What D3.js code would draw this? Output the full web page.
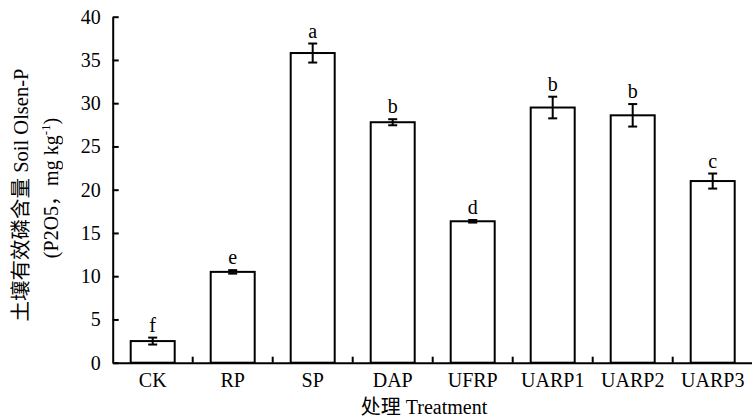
<!DOCTYPE html>
<html><head><meta charset="utf-8">
<script src="https://cdn.jsdelivr.net/npm/d3@7"></script>
<style>
html,body{margin:0;padding:0;background:#fff;}
svg{display:block;}
svg text{font-family:"Liberation Serif","Noto Sans CJK SC",serif !important;fill:#000;}
.rot{opacity:0.999;}
</style></head>
<body>
<svg id="chart" width="752" height="419"></svg>
<script>
const categories = ["CK","RP","SP","DAP","UFRP","UARP1","UARP2","UARP3"];
const means = [2.5,10.5,35.8,27.8,16.35,29.5,28.6,21.0];
const errors = [0.4,0.2,1.1,0.35,0.15,1.25,1.3,0.87];
const letters = ["f","e","a","b","d","b","b","c"];
const yTicks = [0,5,10,15,20,25,30,35,40];

const svg = d3.select("#chart");
const mLeft = 112.7, mRight = 752.7, mTop = 16.7, mBottom = 362.7;

const x = d3.scaleBand().domain(categories).range([mLeft, mRight])
  .paddingInner(0.45).paddingOuter(0.225);
const y = d3.scaleLinear().domain([0,40]).range([mBottom, mTop]);

const data = categories.map((c,i)=>({c, v:means[i], e:errors[i], l:letters[i]}));

// bars
svg.append("g").selectAll("rect").data(data).join("rect")
  .attr("x", d=>x(d.c)).attr("y", d=>y(d.v))
  .attr("width", x.bandwidth()).attr("height", d=>y(0)-y(d.v))
  .attr("fill","#fff").attr("stroke","#000").attr("stroke-width",2);

// error bars
const eg = svg.append("g").attr("stroke","#000").attr("stroke-width",2);
data.forEach(d=>{
  const cx = x(d.c)+x.bandwidth()/2;
  eg.append("line").attr("x1",cx).attr("x2",cx).attr("y1",y(d.v+d.e)).attr("y2",y(d.v-d.e));
  eg.append("line").attr("x1",cx-4.5).attr("x2",cx+4.5).attr("y1",y(d.v+d.e)).attr("y2",y(d.v+d.e));
  eg.append("line").attr("x1",cx-4.5).attr("x2",cx+4.5).attr("y1",y(d.v-d.e)).attr("y2",y(d.v-d.e));
});

// letters
svg.append("g").selectAll("text").data(data).join("text")
  .attr("x", d=>x(d.c)+x.bandwidth()/2)
  .attr("y", d=>y(d.v+d.e)-6)
  .attr("text-anchor","middle").attr("font-size",20)
  .text(d=>d.l);

// y axis
const yAxis = d3.axisLeft(y).tickValues(yTicks).tickSizeInner(-6).tickSizeOuter(0).tickPadding(12);
const gy = svg.append("g").attr("transform",`translate(${mLeft},0)`).call(yAxis);
gy.attr("font-family",null).attr("font-size",null);
gy.selectAll("text").attr("font-size",20);
gy.selectAll("line,path").attr("stroke","#000").attr("stroke-width",2);

// x axis
const xAxis = d3.axisBottom(x).tickSize(0).tickPadding(10.6);
const gx = svg.append("g").attr("transform",`translate(0,${mBottom})`).call(xAxis);
gx.attr("font-family",null).attr("font-size",null);
gx.selectAll("text").attr("font-size",20);
gx.select(".domain").attr("stroke","#000").attr("stroke-width",2);

// separator ticks between categories
const seps = categories.slice(1).map(c=>x(c)-x.step()*x.paddingInner()/2);
svg.append("g").selectAll("line").data(seps).join("line")
  .attr("x1",d=>d).attr("x2",d=>d).attr("y1",mBottom).attr("y2",mBottom-6)
  .attr("stroke","#000").attr("stroke-width",2);

// axis titles
svg.append("text").attr("x",424).attr("y",414).attr("text-anchor","middle")
  .attr("font-size",20).text("处理 Treatment");

svg.append("text").attr("class","rot").attr("transform","translate(28,195) rotate(-90)")
  .attr("text-anchor","middle").attr("font-size",20.5)
  .text("土壤有效磷含量 Soil Olsen-P");
const t2 = svg.append("text").attr("class","rot").attr("transform","translate(58,188) rotate(-90)")
  .attr("text-anchor","middle").attr("font-size",20);
t2.append("tspan").text("(P2O5，mg kg");
t2.append("tspan").attr("dy",-8).attr("font-size",13).text("-1");
t2.append("tspan").attr("dy",8).text(")");
</script>
</body></html>
